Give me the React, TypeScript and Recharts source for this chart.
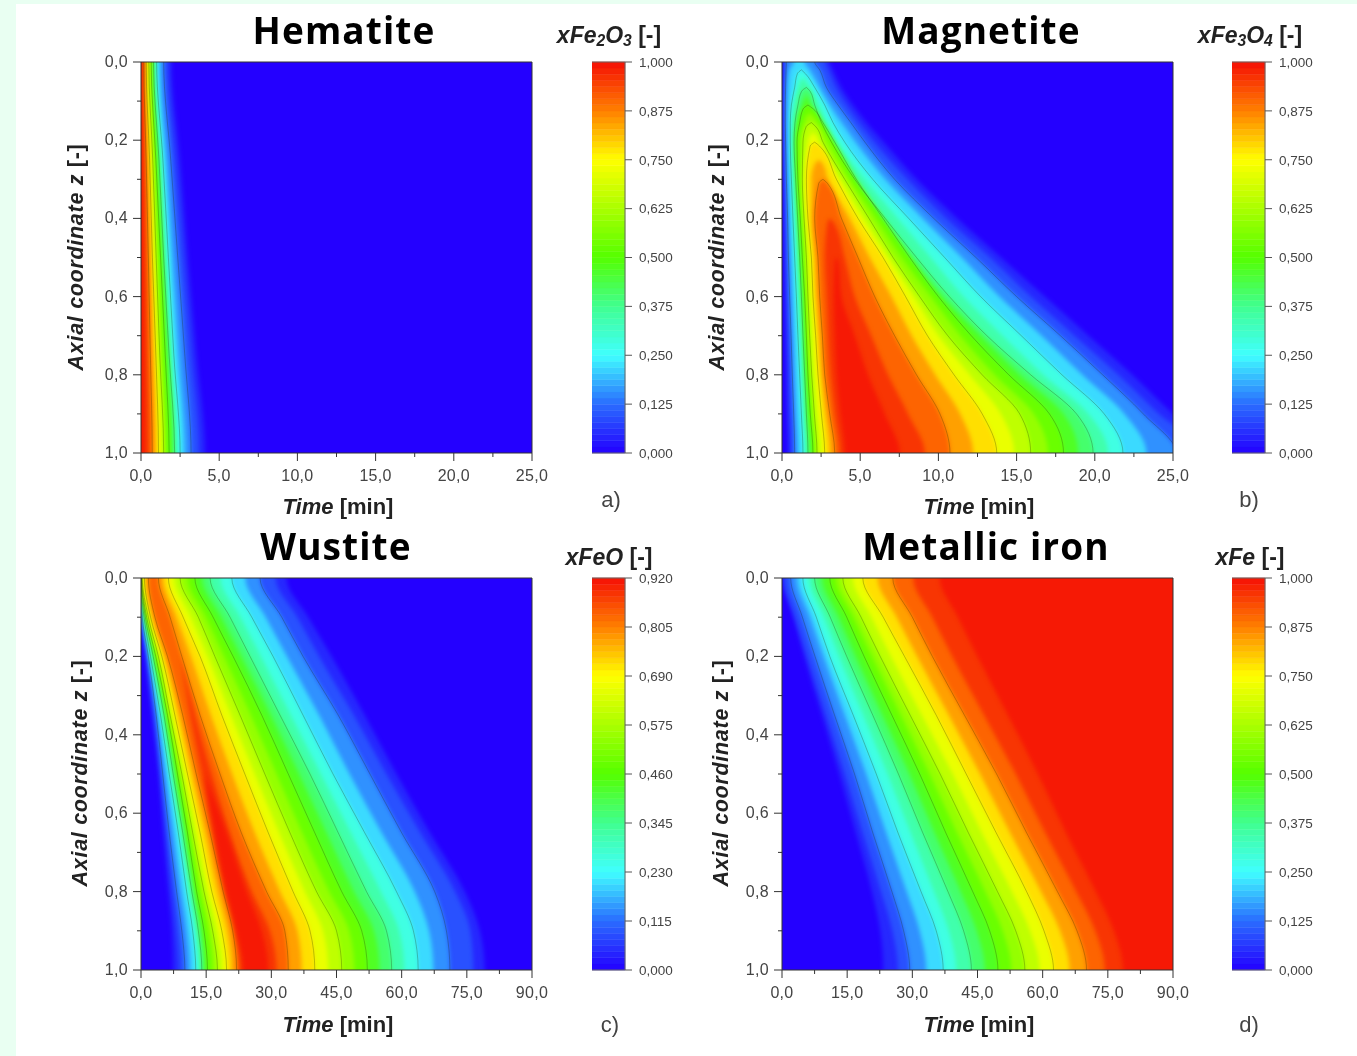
import React from "react";
import { Area, Bar, ComposedChart, Line, ReferenceLine, XAxis, YAxis } from "recharts";

// contour levels as a fraction of the colour bar, the same for every panel
const contourLevels = [0.03, 0.0625, 0.125, 0.1875, 0.25, 0.3125, 0.375, 0.4375, 0.5, 0.5625, 0.625, 0.6875, 0.75, 0.8125, 0.875, 0.9375, 0.98];
const linedLevels = [0.125, 0.25, 0.375, 0.5, 0.625, 0.75, 0.875];

// each table has one row per contour level: time [min] of the contour at the z rows
const hematiteRows = [0, 0.25, 0.5, 0.75, 1];
const hematiteFall = [
  [1.95, 2.5, 3, 3.55, 4.1],
  [1.7, 2.2, 2.7, 3.2, 3.7],
  [1.45, 1.9, 2.35, 2.8, 3.2],
  [1.2, 1.6, 2, 2.4, 2.8],
  [1, 1.4, 1.75, 2.1, 2.5],
  [0.9, 1.25, 1.6, 1.95, 2.3],
  [0.8, 1.15, 1.45, 1.8, 2.15],
  [0.72, 1.05, 1.35, 1.7, 2],
  [0.65, 0.95, 1.25, 1.55, 1.8],
  [0.58, 0.85, 1.1, 1.35, 1.6],
  [0.5, 0.75, 0.97, 1.2, 1.45],
  [0.42, 0.65, 0.85, 1.05, 1.28],
  [0.33, 0.55, 0.73, 0.95, 1.12],
  [0.26, 0.45, 0.6, 0.78, 0.93],
  [0.18, 0.33, 0.47, 0.6, 0.72],
  [0.1, 0.2, 0.3, 0.4, 0.5],
  [0.03, 0.07, 0.12, 0.17, 0.22],
];

const magnetiteBase = [0.3, 0.4, 0.5, 0.6, 0.7, 0.8, 0.9, 1];
const magnetiteZ = [
  [0, 0.02, 0.065, 0.11, 0.155, 0.205, ...magnetiteBase],
  [0, 0.02, 0.065, 0.11, 0.155, 0.205, ...magnetiteBase],
  [0, 0.02, 0.065, 0.11, 0.155, 0.205, ...magnetiteBase],
  [0, 0.02, 0.065, 0.11, 0.155, 0.205, ...magnetiteBase],
  [0.02, 0.03, 0.065, 0.11, 0.155, 0.205, ...magnetiteBase],
  [0.04, 0.05, 0.065, 0.11, 0.155, 0.205, ...magnetiteBase],
  [0.065, 0.075, 0.11, 0.155, 0.205, ...magnetiteBase],
  [0.085, 0.095, 0.11, 0.155, 0.205, ...magnetiteBase],
  [0.11, 0.12, 0.155, 0.205, ...magnetiteBase],
  [0.13, 0.14, 0.155, 0.205, ...magnetiteBase],
  [0.155, 0.165, 0.205, ...magnetiteBase],
  [0.18, 0.19, 0.205, ...magnetiteBase],
  [0.205, 0.215, ...magnetiteBase],
  [0.25, 0.26, ...magnetiteBase],
  [0.3, 0.31, 0.4, 0.5, 0.6, 0.7, 0.8, 0.9, 1],
  [0.4, 0.41, 0.5, 0.6, 0.7, 0.8, 0.9, 1],
  [0.5, 0.51, 0.6, 0.7, 0.8, 0.9, 1],
];
const magnetiteRise = [
  [0.06, 0.06, 0.06, 0.06, 0.09, 0.09, 0.11, 0.13, 0.15, 0.19, 0.23, 0.28, 0.32, 0.38],
  [0.15, 0.15, 0.15, 0.15, 0.15, 0.15, 0.19, 0.23, 0.28, 0.32, 0.38, 0.45, 0.51, 0.6],
  [0.28, 0.26, 0.23, 0.21, 0.21, 0.23, 0.28, 0.36, 0.41, 0.49, 0.58, 0.66, 0.75, 0.81],
  [0.75, 0.49, 0.38, 0.36, 0.36, 0.38, 0.43, 0.49, 0.58, 0.66, 0.75, 0.83, 0.92, 1.02],
  [1.24, 0.98, 0.81, 0.6, 0.53, 0.53, 0.6, 0.7, 0.81, 0.92, 1.02, 1.13, 1.24, 1.34],
  [1.34, 1.15, 1.02, 0.75, 0.66, 0.66, 0.72, 0.83, 0.96, 1.07, 1.17, 1.26, 1.39, 1.49],
  [1.56, 1.25, 1.02, 0.83, 0.77, 0.87, 1, 1.13, 1.24, 1.34, 1.45, 1.56, 1.66],
  [1.6, 1.42, 1.3, 0.96, 0.87, 0.94, 1.07, 1.19, 1.3, 1.41, 1.51, 1.62, 1.81],
  [1.66, 1.35, 1.13, 0.96, 1.02, 1.17, 1.3, 1.45, 1.56, 1.66, 1.81, 1.98],
  [1.77, 1.55, 1.39, 1.13, 1.15, 1.28, 1.43, 1.54, 1.64, 1.77, 1.94, 2.11],
  [1.88, 1.55, 1.34, 1.3, 1.41, 1.56, 1.66, 1.77, 1.9, 2.07, 2.24],
  [1.98, 1.78, 1.66, 1.43, 1.54, 1.73, 1.83, 1.94, 2.07, 2.26, 2.47],
  [2.09, 1.8, 1.56, 1.66, 1.88, 1.98, 2.15, 2.3, 2.52, 2.73],
  [2.37, 2.1, 1.88, 1.88, 2.09, 2.19, 2.37, 2.52, 2.79, 3.05],
  [2.62, 2.35, 2.09, 2.3, 2.41, 2.58, 2.73, 3.05, 3.37],
  [3.05, 2.9, 2.73, 2.84, 2.94, 3.09, 3.37, 3.69],
  [3.48, 3.38, 3.3, 3.37, 3.48, 3.73, 4.01],
];
const magnetiteFall = [
  [3.05, 3.26, 3.8, 4.54, 5.4, 6.5, 8.6, 11.2, 14, 16.8, 19.6, 22.4, 25, 28],
  [2.73, 2.94, 3.43, 4.11, 4.9, 5.9, 8, 10.5, 13.3, 15.9, 18.7, 21.5, 24.1, 27],
  [2.09, 2.41, 2.84, 3.58, 4.4, 5.3, 7.2, 9.7, 12.4, 15, 17.8, 20.5, 23.1, 25.2],
  [1.45, 1.77, 2.41, 3.05, 3.8, 4.7, 6.6, 9, 11.5, 13.9, 16.6, 19.2, 21.9, 23.3],
  [1.24, 1.5, 2.09, 2.73, 3.26, 4.01, 5.8, 8.1, 10.4, 12.7, 15.3, 17.9, 20.6, 21.8],
  [1.34, 1.55, 1.77, 2.37, 2.88, 3.58, 5.3, 7.4, 9.5, 11.6, 14.1, 16.7, 19.6, 20.85],
  [1.56, 1.8, 2.09, 2.52, 3.16, 4.65, 6.6, 8.6, 10.7, 13.1, 15.9, 18.83, 19.89],
  [1.6, 1.7, 1.81, 2.3, 2.88, 4.33, 6.14, 8.1, 10.2, 12.7, 15.2, 18, 18.93],
  [1.66, 2, 2.62, 3.37, 4.75, 6.46, 8.17, 10, 12.1, 14.5, 17.1, 18],
  [1.77, 2, 2.3, 3.01, 4.33, 6, 7.64, 9.5, 11.4, 13.6, 16.1, 17],
  [1.88, 2.15, 2.62, 4.01, 5.56, 7.1, 8.8, 10.6, 12.8, 15.2, 15.9],
  [1.98, 2.2, 2.37, 3.69, 5.18, 6.78, 8.4, 10, 12, 14, 14.85],
  [2.09, 2.4, 3.48, 4.86, 6.46, 7.9, 9.3, 11, 12.8, 13.73],
  [2.37, 2.6, 2.94, 4.33, 5.61, 7, 8.3, 9.8, 11.4, 12.22],
  [2.62, 2.9, 3.8, 4.86, 5.93, 7.2, 8.6, 10.1, 10.74],
  [3.05, 3.3, 4.01, 4.65, 5.71, 6.78, 8.06, 9.13],
  [3.48, 3.6, 3.8, 4.65, 5.5, 6.57, 7.53],
];

const slantRows = [0, 0.1, 0.2, 0.35, 0.5, 0.65, 0.8, 0.9, 1];
const wustiteZ = [
  ...contourLevels.slice(0, 15).map(() => slantRows),
  slantRows.slice(2),
  slantRows.slice(4),
];
const wustiteRise = [
  [0, 0.05, 0.9, 2.5, 4, 5.1, 6.3, 7.1, 7.4],
  [0, 0.15, 1.3, 3, 4.5, 5.8, 7.2, 8.2, 8.8],
  [0, 0.3, 1.7, 3.5, 5, 6.5, 8.2, 9.4, 10.1],
  [0, 0.5, 1.95, 4, 5.75, 7.5, 9.3, 10.6, 11.3],
  [0, 0.7, 2.2, 4.5, 6.5, 8.6, 10.5, 11.9, 12.6],
  [0.05, 0.85, 2.5, 4.9, 6.95, 9.1, 11.1, 12.55, 13.3],
  [0.1, 1, 2.8, 5.3, 7.4, 9.6, 11.7, 13.2, 14],
  [0.12, 1.15, 3.1, 5.7, 7.9, 10.15, 12.25, 13.85, 14.65],
  [0.15, 1.3, 3.4, 6.1, 8.4, 10.7, 12.8, 14.5, 15.3],
  [0.22, 1.5, 3.7, 6.4, 8.9, 11.3, 13.65, 15.5, 16.45],
  [0.3, 1.7, 4, 6.7, 9.4, 11.9, 14.5, 16.5, 17.6],
  [0.5, 1.95, 4.4, 7.25, 10.05, 12.75, 15.4, 17.55, 18.65],
  [0.8, 2.2, 4.8, 7.8, 10.7, 13.6, 16.3, 18.6, 19.7],
  [1.2, 2.7, 5.45, 8.7, 11.7, 14.75, 17.6, 19.85, 20.85],
  [1.7, 3.2, 6.1, 9.6, 12.7, 15.9, 18.9, 21.1, 22],
  [9, 11.3, 14, 16.5, 19.3, 21.6, 22.8],
  [14.7, 17, 19.7, 22, 23.5],
];
const wustiteFall = [
  [33.5, 38.5, 43.9, 51.5, 58.8, 66.5, 74.5, 78, 79.1],
  [31, 36, 41, 49, 56.5, 64.3, 72.3, 75.8, 76.5],
  [27.4, 32.4, 37.3, 45.4, 52.7, 60, 67.6, 70.3, 71.1],
  [24, 28.7, 33.6, 41, 48, 55.4, 63, 66.3, 67.3],
  [20.9, 25.5, 30.4, 37.3, 44.2, 51.5, 58.8, 62.7, 63.8],
  [18.3, 22.9, 27.6, 34.5, 41.4, 48.3, 55.2, 59.4, 60.6],
  [15.9, 20.5, 25.1, 32, 38.9, 45.4, 51.9, 56.5, 57.7],
  [14.1, 18.5, 23.1, 29.9, 36.4, 42.7, 49, 53.6, 54.9],
  [12.4, 16.6, 21.2, 27.8, 33.9, 40, 46.2, 50.8, 52.1],
  [10.7, 14.9, 19.1, 25.3, 31.2, 37.1, 43.3, 47.9, 49.1],
  [9, 13.2, 17, 22.8, 28.5, 34.3, 40.4, 45, 46.2],
  [7.6, 11.4, 15.3, 20.7, 26.2, 31.8, 37.7, 41.9, 43.1],
  [6.3, 9.7, 13.6, 18.6, 23.9, 29.3, 35, 38.9, 40],
  [5.1, 8.2, 11.5, 16.1, 21, 26.2, 32, 36, 37],
  [4, 6.7, 9.4, 13.6, 18.2, 23.1, 28.9, 33.1, 33.9],
  [9, 12.4, 16.3, 20.5, 25.5, 29.7, 31.2],
  [14.7, 19.7, 24.3, 27.8, 29.3],
];

const ironRise = [
  [0.2, 2.6, 5.1, 9.2, 13.2, 17, 20.7, 22.6, 23.3],
  [0.5, 3.1, 5.9, 10.2, 14.5, 18.6, 22.8, 25.4, 26.7],
  [2, 4.7, 7.6, 12.1, 16.7, 20.9, 25.3, 28, 29.4],
  [3.5, 6.5, 9.6, 14.5, 19.4, 24, 28.7, 31.7, 33.2],
  [4.8, 7.9, 11, 16.4, 21.7, 26.7, 32, 35.5, 37.1],
  [6.2, 9.6, 13.1, 18.7, 24.3, 29.6, 35, 38.4, 40.1],
  [7.5, 11.1, 14.9, 20.9, 26.8, 32.4, 38.2, 41.8, 43.6],
  [9.2, 13, 16.9, 23.1, 29.3, 35.1, 41.1, 44.8, 46.7],
  [11, 14.9, 18.9, 25.3, 31.7, 37.7, 43.9, 47.8, 49.7],
  [12.5, 16.5, 20.8, 27.4, 34, 40.3, 46.8, 50.8, 52.8],
  [14, 18.2, 22.6, 29.5, 36.4, 42.9, 49.6, 53.8, 55.9],
  [16.3, 20.6, 25.1, 32.2, 39.3, 46, 52.9, 57.1, 59.3],
  [18.6, 23.3, 28.2, 35.5, 42.4, 49.3, 56.3, 60.3, 62.5],
  [22, 26.4, 31.1, 38.4, 45.6, 52.5, 59.6, 64, 66.2],
  [25.5, 30, 34.6, 42, 49.4, 56.3, 63.4, 67.9, 70.1],
  [30.2, 34.6, 39.2, 46.5, 53.8, 60.6, 67.7, 72.1, 74.3],
  [36.3, 40.5, 45, 52, 58.9, 65.4, 72.2, 76.4, 78.5],
];

const zTicks = [0, 0.1, 0.2, 0.3, 0.4, 0.5, 0.6, 0.7, 0.8, 0.9, 1];
const zLabels = [0, 0.2, 0.4, 0.6, 0.8, 1];
const shortTimeTicks = [0, 2.5, 5, 7.5, 10, 12.5, 15, 17.5, 20, 22.5, 25];
const shortTimeLabels = [0, 5, 10, 15, 20, 25];
const longTimeTicks = [0, 7.5, 15, 22.5, 30, 37.5, 45, 52.5, 60, 67.5, 75, 82.5, 90];
const longTimeLabels = [0, 15, 30, 45, 60, 75, 90];
const unitBarTicks = [0, 0.125, 0.25, 0.375, 0.5, 0.625, 0.75, 0.875, 1];
const wustiteBarTicks = [0, 0.115, 0.23, 0.345, 0.46, 0.575, 0.69, 0.805, 0.92];

// colour map anchors, one every eighth of the bar
const ANCHORS = [
  [36, 0, 255], [42, 108, 255], [64, 255, 255], [64, 255, 144], [85, 255, 0],
  [170, 255, 0], [255, 255, 0], [255, 128, 0], [245, 16, 5],
];
const colorAt = (f: number) => {
  const p = Math.min(Math.max(f, 0), 1) * 8;
  const i = Math.min(Math.floor(p), 7);
  const c = ANCHORS[i].map((a, n) => Math.round(a + (ANCHORS[i + 1][n] - a) * (p - i)));
  return `rgb(${c.join(",")})`;
};

const comma = (v: number, digits: number) => v.toFixed(digits).replace(".", ",");
const rangeKey = (row: { lo: number; hi: number }) => [row.lo, row.hi];
const TEXT = "#444";
const SANS = "'Liberation Sans', Arial, sans-serif";

function ContourPanel({ left, top, height, maxTime, timeTicks, timeLabels, zTable, rise, fall }: any) {
  const contours = contourLevels.map((level, k) => {
    const rows = zTable[k].map((z: number, i: number) => ({
      z,
      // open sides run past the frame so the softened edge stays outside the clip
      lo: rise ? rise[k][i] : -maxTime / 10,
      hi: fall ? fall[k][i] : maxTime * 1.1,
    }));
    // same for the ends at z = 0 and z = 1
    if (rows[0].z === 0) rows.unshift({ ...rows[0], z: -0.02 });
    if (rows[rows.length - 1].z === 1) rows.push({ ...rows[rows.length - 1], z: 1.02 });
    return { level, color: colorAt((level + (contourLevels[k + 1] ?? 1)) / 2), rows };
  });
  const baseRows = [0, 1].map((z) => ({ z, lo: 0, hi: maxTime }));

  const xTick = ({ x, y, payload }: any) => {
    const major = timeLabels.includes(payload.value);
    return (
      <g>
        <line x1={x} x2={x} y1={y} y2={y + (major ? 8 : 4)} stroke="#333" />
        {major && (
          <text x={x} y={y + 28} textAnchor="middle" fontSize={16} letterSpacing={0.3} fontFamily={SANS} fill={TEXT}>
            {comma(payload.value, 1)}
          </text>
        )}
      </g>
    );
  };
  const yTick = ({ x, y, payload }: any) => {
    const major = zLabels.includes(payload.value);
    return (
      <g>
        <line x1={x} x2={x - (major ? 8 : 4)} y1={y} y2={y} stroke="#333" />
        {major && (
          <text x={x - 13} y={y + 5} textAnchor="end" fontSize={16} letterSpacing={0.3} fontFamily={SANS} fill={TEXT}>
            {comma(payload.value, 1)}
          </text>
        )}
      </g>
    );
  };

  return (
    <div style={{ position: "absolute", left: left - 60, top: top - 20 }}>
      <ComposedChart
        width={481}
        height={height + 60}
        layout="vertical"
        data={baseRows}
        margin={{ top: 20, right: 30, bottom: 0, left: 0 }}
      >
        <XAxis
          type="number"
          domain={[0, maxTime]}
          ticks={timeTicks}
          interval={0}
          height={40}
          tick={xTick}
          tickLine={false}
          tickSize={0}
          tickMargin={0}
          allowDataOverflow
          axisLine={{ stroke: "#333" }}
        />
        <YAxis
          type="number"
          dataKey="z"
          domain={[0, 1]}
          ticks={zTicks}
          interval={0}
          width={60}
          tick={yTick}
          tickLine={false}
          tickSize={0}
          tickMargin={0}
          allowDataOverflow
          axisLine={{ stroke: "#333" }}
        />
        <Area data={baseRows} dataKey={rangeKey} type="linear" fill={colorAt(0)} fillOpacity={1} stroke="none" dot={false} activeDot={false} isAnimationActive={false} />
        {contours.map((c) => (
          <Area
            key={c.level}
            className="soft-band"
            data={c.rows}
            dataKey={rangeKey}
            type="monotone"
            fill={c.color}
            fillOpacity={1}
            stroke="none"
            dot={false}
            activeDot={false}
            isAnimationActive={false}
          />
        ))}
        {contours
          .filter((c) => linedLevels.includes(c.level))
          .flatMap((c) => [
            rise && <Line key={`r${c.level}`} data={c.rows} dataKey="lo" type="monotone" stroke="#203000" strokeOpacity={0.28} strokeWidth={1} dot={false} activeDot={false} isAnimationActive={false} />,
            fall && <Line key={`f${c.level}`} data={c.rows} dataKey="hi" type="monotone" stroke="#203000" strokeOpacity={0.28} strokeWidth={1} dot={false} activeDot={false} isAnimationActive={false} />,
          ])}
        <ReferenceLine x={maxTime} stroke="#333" />
        <ReferenceLine y={0} stroke="#333" />
      </ComposedChart>
    </div>
  );
}

const barBands = Array.from({ length: 64 }, (_, i) => i);

function ColorBar({ left, top, height, ticks }: any) {
  const max = ticks[ticks.length - 1];
  const row: Record<string, number | string> = { name: "bar" };
  barBands.forEach((i) => {
    row[`b${i}`] = max / barBands.length;
  });
  return (
    <div style={{ position: "absolute", left: left, top: top - 20 }}>
      <ComposedChart
        width={105}
        height={height + 40}
        data={[row]}
        barCategoryGap={0}
        margin={{ top: 20, right: 0, bottom: 20, left: 0 }}
      >
        <XAxis type="category" dataKey="name" hide />
        <YAxis
          type="number"
          orientation="right"
          domain={[0, max]}
          ticks={ticks}
          interval={0}
          width={72}
          tickSize={7}
          tickMargin={7}
          tickFormatter={(v: number) => comma(v, 3)}
          tick={{ fontSize: 13.5, fontFamily: SANS, fill: TEXT }}
          tickLine={{ stroke: "#555" }}
          axisLine={{ stroke: "#666" }}
        />
        {barBands.map((i) => (
          <Bar
            key={i}
            dataKey={`b${i}`}
            stackId="bar"
            fill={colorAt((i + 0.5) / barBands.length)}
            stroke={colorAt((i + 0.5) / barBands.length)}
            strokeWidth={0.5}
            isAnimationActive={false}
          />
        ))}
        <ReferenceLine y={max} stroke="#666" />
        <ReferenceLine y={0} stroke="#666" />
      </ComposedChart>
    </div>
  );
}

const Caption = ({ x, y, size, weight, family, color, rotate, spacing, children }: any) => (
  <div
    style={{
      position: "absolute",
      left: x,
      top: y,
      transform: `translate(-50%, -50%)${rotate ? " rotate(-90deg)" : ""}`,
      fontSize: size,
      fontWeight: weight ?? "bold",
      fontFamily: family ?? SANS,
      color: color ?? "#222",
      letterSpacing: spacing ?? 0,
      fontVariantLigatures: "none",
      whiteSpace: "nowrap",
      lineHeight: 1,
    }}
  >
    {children}
  </div>
);

const sub = { fontSize: "0.68em", verticalAlign: "-0.25em", lineHeight: 0 };
const AxisTitle = ({ x, y }: any) => (
  <Caption x={x} y={y} size={21.5} spacing={0.7} rotate>
    <i>Axial coordinate z</i> [-]
  </Caption>
);
const TimeTitle = ({ x, y }: any) => (
  <Caption x={x} y={y} size={22}>
    <i>Time</i> [min]
  </Caption>
);
const Title = ({ x, y, children }: any) => (
  <Caption x={x} y={y} size={37} spacing={1.1} family="'Open Sans', sans-serif" color="#000">
    {children}
  </Caption>
);
const PanelTag = ({ x, y, children }: any) => (
  <Caption x={x} y={y} size={22} weight="normal" color={TEXT}>
    {children}
  </Caption>
);

export default function App() {
  return (
    <div style={{ position: "absolute", left: 0, top: 0, width: 1357, height: 1056, background: "#e9fff2", overflow: "hidden" }}>
      <style>{`.soft-band .recharts-area-area { filter: blur(2px); }`}</style>
      <div style={{ position: "absolute", left: 16, top: 4, width: 1341, height: 1052, background: "#fff" }} />
      <div style={{ position: "absolute", left: 0, top: 0, width: 1357, height: 1056, filter: "blur(0.6px)" }}>
        <ContourPanel left={141} top={62} height={391} maxTime={25} timeTicks={shortTimeTicks} timeLabels={shortTimeLabels} zTable={contourLevels.map(() => hematiteRows)} fall={hematiteFall} />
        <ContourPanel left={782} top={62} height={391} maxTime={25} timeTicks={shortTimeTicks} timeLabels={shortTimeLabels} zTable={magnetiteZ} rise={magnetiteRise} fall={magnetiteFall} />
        <ContourPanel left={141} top={578} height={392} maxTime={90} timeTicks={longTimeTicks} timeLabels={longTimeLabels} zTable={wustiteZ} rise={wustiteRise} fall={wustiteFall} />
        <ContourPanel left={782} top={578} height={392} maxTime={90} timeTicks={longTimeTicks} timeLabels={longTimeLabels} zTable={contourLevels.map(() => slantRows)} rise={ironRise} />

        <ColorBar left={592} top={62} height={391} ticks={unitBarTicks} />
        <ColorBar left={1232} top={62} height={391} ticks={unitBarTicks} />
        <ColorBar left={592} top={578} height={392} ticks={wustiteBarTicks} />
        <ColorBar left={1232} top={578} height={392} ticks={unitBarTicks} />

        <Title x={344} y={29}>Hematite</Title>
        <Title x={981} y={29}>Magnetite</Title>
        <Title x={336} y={544.5}>Wustite</Title>
        <Title x={986} y={544.5}>Metallic iron</Title>

        <AxisTitle x={77} y={257} />
        <AxisTitle x={718} y={257} />
        <AxisTitle x={81} y={773} />
        <AxisTitle x={722} y={773} />

        <TimeTitle x={338} y={506.5} />
        <TimeTitle x={979} y={506.5} />
        <TimeTitle x={338} y={1025} />
        <TimeTitle x={979} y={1025} />

        <Caption x={609} y={35} size={23}>
          <i>xFe<span style={sub}>2</span>O<span style={sub}>3</span></i> [-]
        </Caption>
        <Caption x={1250} y={35} size={23}>
          <i>xFe<span style={sub}>3</span>O<span style={sub}>4</span></i> [-]
        </Caption>
        <Caption x={609} y={557} size={23}>
          <i>xFeO</i> [-]
        </Caption>
        <Caption x={1250} y={557} size={23}>
          <i>xFe</i> [-]
        </Caption>

        <PanelTag x={611} y={500}>a)</PanelTag>
        <PanelTag x={1249} y={500}>b)</PanelTag>
        <PanelTag x={610} y={1025}>c)</PanelTag>
        <PanelTag x={1249} y={1025}>d)</PanelTag>
      </div>
    </div>
  );
}
